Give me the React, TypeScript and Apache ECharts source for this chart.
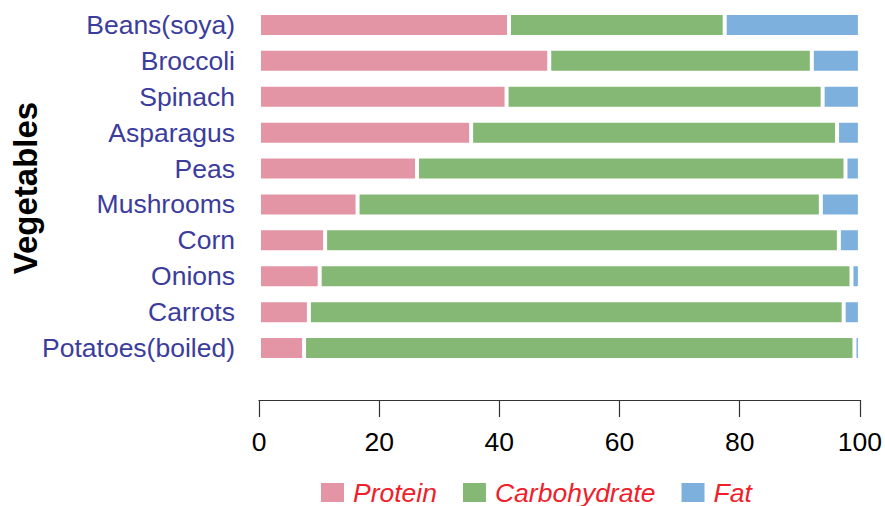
import React, { useEffect, useRef } from "react";
import * as echarts from "echarts";

const categories = [
  "Beans(soya)",
  "Broccoli",
  "Spinach",
  "Asparagus",
  "Peas",
  "Mushrooms",
  "Corn",
  "Onions",
  "Carrots",
  "Potatoes(boiled)",
];
const protein = [41.6, 48.3, 41.2, 35.3, 26.3, 16.4, 11.0, 10.1, 8.3, 7.5];
const carbohydrate = [35.9, 43.7, 52.6, 60.9, 71.3, 77.1, 85.5, 88.5, 89.0, 91.6];
const fat = [22.5, 8.0, 6.2, 3.8, 2.4, 6.5, 3.5, 1.4, 2.7, 0.9];
const seriesNames = ["Protein", "Carbohydrate", "Fat"];
const seriesColors = ["#e495a5", "#86b875", "#7db0dd"];
const xTicks = [0, 20, 40, 60, 80, 100];

const FONT = "'Liberation Sans', Arial, Helvetica, sans-serif";

export default function App() {
  const ref = useRef<HTMLDivElement>(null);
  useEffect(() => {
    document.body.style.margin = "0";
    if (!ref.current) return;
    const chart = echarts.init(ref.current, undefined, { renderer: "svg" });
    const values = [protein, carbohydrate, fat];
    chart.setOption({
      animation: false,
      backgroundColor: "#ffffff",
      textStyle: { fontFamily: FONT },
      grid: { left: 259, right: 23, top: 7, bottom: 140, containLabel: false },
      legend: {
        left: 319,
        top: 479,
        padding: 0,
        itemWidth: 25,
        itemHeight: 21,
        itemGap: 24,
        icon: "rect",
        data: seriesNames,
        textStyle: {
          fontFamily: FONT,
          fontSize: 26.5,
          fontStyle: "italic",
          color: "#f0202a",
          padding: [0, 0, 0, 3],
        },
      },
      xAxis: {
        type: "value",
        min: xTicks[0],
        max: xTicks[xTicks.length - 1],
        interval: 20,
        offset: 34,
        axisLine: { show: true, lineStyle: { color: "#333333", width: 1.2 } },
        axisTick: { show: true, length: 17, lineStyle: { color: "#333333", width: 1.2 } },
        splitLine: { show: false },
        axisLabel: {
          margin: 28,
          fontFamily: FONT,
          fontSize: 26.5,
          color: "#000000",
        },
      },
      yAxis: {
        type: "category",
        data: categories,
        inverse: true,
        axisLine: { show: false },
        axisTick: { show: false },
        axisLabel: {
          margin: 24,
          fontFamily: FONT,
          fontSize: 26.5,
          color: "#3c3c9c",
        },
      },
      graphic: [
        {
          type: "text",
          x: 25,
          y: 188,
          rotation: Math.PI / 2,
          style: {
            text: "Vegetables",
            fontFamily: FONT,
            fontSize: 33,
            fontWeight: "bold",
            fill: "#000000",
            textAlign: "center",
            textVerticalAlign: "middle",
          },
        },
      ],
      series: seriesNames.map((name, i) => ({
        name,
        type: "bar",
        stack: "total",
        barWidth: 24,
        data: values[i],
        itemStyle: {
          color: seriesColors[i],
          borderColor: "#ffffff",
          borderWidth: 2,
        },
      })),
    });
    return () => chart.dispose();
  }, []);
  return <div ref={ref} style={{ width: 885, height: 506 }} />;
}
